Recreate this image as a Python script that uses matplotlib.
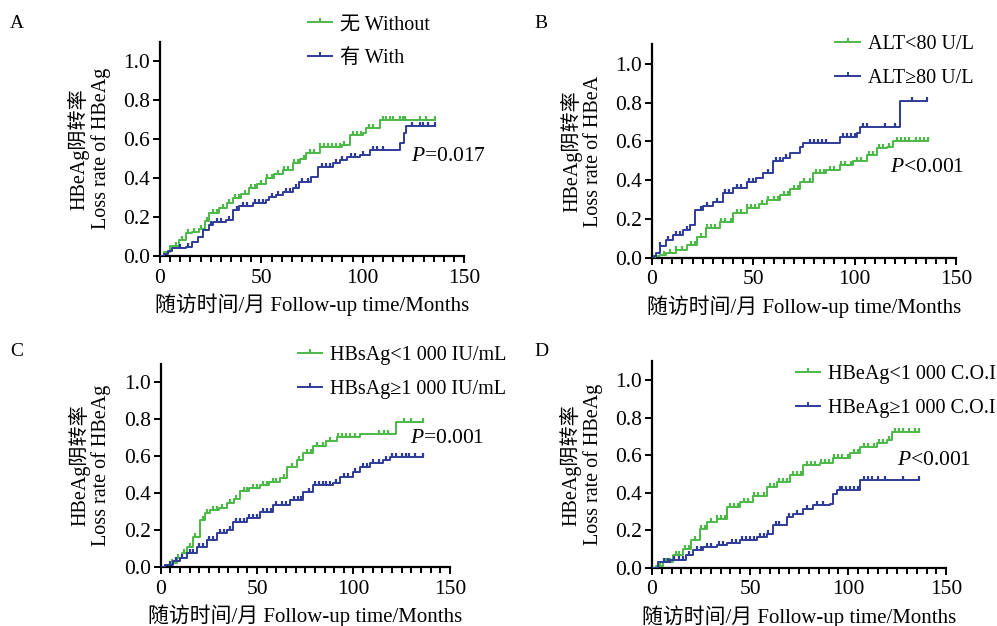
import numpy as np
import matplotlib

matplotlib.use("Agg")
import matplotlib.pyplot as plt
from matplotlib.lines import Line2D
from matplotlib.ticker import MultipleLocator

GREEN = "#4cb848"
BLUE = "#2d3b98"
FONT = ["Liberation Serif", "Noto Sans CJK SC", "DejaVu Sans"]

plt.rcParams.update({
    "font.family": FONT,
    "font.size": 15,
    "mathtext.fontset": "custom",
    "mathtext.it": "Liberation Serif:italic",
    "mathtext.rm": "Liberation Serif",
    "axes.linewidth": 1.6,
    "xtick.major.width": 1.4,
    "ytick.major.width": 1.4,
    "xtick.minor.width": 1.4,
})

# ---- data (time in months, cumulative loss rate) ---------------------------
A_WITHOUT_T = [2, 5, 9.5, 12.8, 16, 19.4, 22, 24.4, 29.3, 33, 35.9, 40, 44, 48, 52.4,
               56, 60.6, 65.5, 69, 72, 78.7, 90, 93.5, 100, 101.8, 108.3]
A_WITHOUT_S = [0.02, 0.05, 0.08, 0.116, 0.125, 0.14, 0.18, 0.22, 0.245, 0.27, 0.30, 0.32,
               0.347, 0.37, 0.40, 0.42, 0.44, 0.475, 0.50, 0.527, 0.56, 0.57, 0.62, 0.63,
               0.655, 0.70]
A_WITHOUT_C = [8, 11, 14, 17, 20, 23, 26, 28, 31, 34, 37, 39, 42, 45, 47, 50, 53, 55, 58,
               61, 63, 66, 68, 71, 74, 76, 79, 81, 83, 85, 87, 89, 91, 95, 97, 99, 103, 105,
               110, 111.7, 113.3, 115, 118.3, 120, 120.8, 128, 131.3, 135.5]
A_WITH_T = [2, 4, 6, 12.8, 16, 18.5, 21, 24, 26, 32.6, 36, 39, 45.8, 52.4, 54, 57, 60.6,
            65.5, 68.8, 74.6, 77.9, 85.3, 88.6, 92, 98.5, 103.4, 118.5, 120.5, 121.5]
A_WITH_S = [0.01, 0.025, 0.04, 0.048, 0.073, 0.1, 0.133, 0.16, 0.176, 0.185, 0.236, 0.256,
            0.273, 0.287, 0.304, 0.315, 0.33, 0.347, 0.38, 0.407, 0.458, 0.475, 0.49, 0.51,
            0.518, 0.545, 0.58, 0.63, 0.665]
A_WITH_C = [10, 14, 25, 28, 30, 34, 38, 41, 43, 47, 49, 51, 55, 58, 62, 64, 67, 70, 73, 80,
            82, 84, 87, 90, 94, 96, 100, 105, 107, 110, 124.5, 128, 129.7, 132, 135.5]

B_LOW_T = [1.3, 4, 7, 12, 17, 22, 26.8, 33.4, 40, 46.6, 53, 56.5, 63, 68, 73, 79.5, 86,
           92.7, 99.3, 105.9, 110.8, 115.8, 119]
B_LOW_S = [0.008, 0.015, 0.024, 0.04, 0.067, 0.11, 0.153, 0.187, 0.23, 0.256, 0.28, 0.30,
           0.325, 0.357, 0.393, 0.436, 0.454, 0.48, 0.497, 0.53, 0.565, 0.574, 0.60]
B_LOW_C = [6, 9, 12, 15, 19, 21, 24, 27, 29, 31, 34, 36, 39, 42, 44, 47, 49, 51, 54, 57,
           60, 62, 65, 67, 70, 72, 75, 78, 81, 83, 85, 88, 90, 93, 95, 98, 101, 103, 107,
           109, 112, 114, 117, 121, 123, 125, 127, 130, 132, 134, 136]
B_HIGH_T = [1, 2, 3.8, 7, 10.4, 15.3, 18.6, 21, 25.2, 30, 35, 40, 46.6, 51.5, 54.8, 59.8,
            64.7, 68, 73, 74.6, 92.7, 101, 102.6, 122.3]
B_HIGH_S = [0.012, 0.024, 0.062, 0.093, 0.12, 0.144, 0.17, 0.247, 0.265, 0.29, 0.333, 0.36,
            0.393, 0.41, 0.437, 0.497, 0.514, 0.54, 0.574, 0.59, 0.625, 0.643, 0.677, 0.806]
B_HIGH_C = [4, 8, 12, 14, 17, 24, 27, 32, 36, 38, 42, 44, 48, 50, 57, 61, 63, 66, 78, 80,
            82, 84, 86, 94, 96, 98, 100, 104, 106, 115, 120, 128, 135.5]

C_LOW_T = [2, 4.8, 8.3, 10.9, 13.5, 17, 20.4, 23, 25.6, 30, 34.2, 38, 41, 46, 51.5, 56,
           61.9, 65.3, 70.5, 74, 79, 86, 91.2, 103.3, 122.3]
C_LOW_S = [0.01, 0.02, 0.048, 0.075, 0.11, 0.165, 0.255, 0.29, 0.31, 0.32, 0.345, 0.37,
           0.41, 0.425, 0.443, 0.46, 0.48, 0.54, 0.578, 0.614, 0.653, 0.68, 0.704, 0.72, 0.785]
C_LOW_C = [6, 9, 12, 15, 18, 22, 24, 27, 29, 32, 36, 39, 43, 45, 48, 50, 53, 55, 58, 60,
           64, 68, 72, 76, 78, 81, 84, 88, 92, 94, 96, 98, 101, 113, 116, 118, 126, 130, 136]
C_HIGH_T = [2, 6.6, 10, 13.5, 18.7, 23.8, 29, 34.2, 37.7, 44.6, 51.5, 58.4, 67, 74, 79,
            89.5, 93, 99.9, 103.3, 108.5, 115.4, 118.9]
C_HIGH_S = [0.01, 0.03, 0.05, 0.075, 0.11, 0.147, 0.183, 0.2, 0.246, 0.264, 0.3, 0.336,
            0.363, 0.408, 0.443, 0.456, 0.488, 0.515, 0.542, 0.56, 0.578, 0.596]
C_HIGH_C = [5, 8, 11, 15, 17, 20, 22, 25, 27, 31, 33, 36, 39, 41, 43, 46, 48, 50, 53, 55,
            57, 60, 63, 65, 69, 71, 73, 77, 80, 82, 84, 86, 88, 91, 95, 97, 101, 105, 107,
            110, 113, 117, 120, 122, 125, 127, 129, 132, 136]

D_LOW_T = [2, 5.6, 10.7, 15.8, 20, 24.3, 27.8, 32.9, 38, 44.8, 51.6, 58.4, 63.5, 70.3,
           77.1, 85.6, 92.5, 101, 106, 114.6, 119.7, 122.3]
D_LOW_S = [0.012, 0.032, 0.067, 0.103, 0.147, 0.21, 0.245, 0.263, 0.325, 0.352, 0.382,
           0.432, 0.458, 0.494, 0.547, 0.56, 0.588, 0.61, 0.645, 0.663, 0.68, 0.725]
D_LOW_C = [4, 7, 9, 12, 14, 17, 19, 22, 25, 27, 30, 33, 35, 37, 40, 42, 44, 47, 49, 52, 54,
           57, 60, 62, 65, 67, 69, 72, 74, 76, 79, 81, 83, 86, 88, 90, 93, 95, 97, 100, 103,
           105, 108, 110, 113, 116, 118, 121, 124, 126, 128, 131, 134, 135.9]
D_HIGH_T = [3, 9, 17.5, 21, 26, 32.9, 38, 44.8, 53.3, 58.4, 61.8, 68.6, 72, 77.1, 82.2,
            90.7, 92.5, 94.2, 106]
D_HIGH_S = [0.032, 0.044, 0.067, 0.094, 0.112, 0.12, 0.133, 0.151, 0.165, 0.183, 0.227,
            0.272, 0.29, 0.316, 0.334, 0.343, 0.396, 0.414, 0.47]
D_HIGH_C = [6, 8, 11, 14, 16, 19, 23, 25, 28, 30, 34, 36, 41, 43, 46, 48, 50, 52, 55, 57,
            59, 63, 65, 70, 74, 79, 84, 87, 96, 97, 99, 101, 103, 105, 108, 110, 112, 115,
            119, 128, 135.9]

PANELS = [
    dict(letter="A", rect=[0.1605, 0.591, 0.305, 0.3427],
         series=[(A_WITHOUT_T, A_WITHOUT_S, A_WITHOUT_C, GREEN, "无 Without"),
                 (A_WITH_T, A_WITH_S, A_WITH_C, BLUE, "有 With")],
         ylabel="HBeAg阴转率\nLoss rate of HBeAg", p=r"$\it{P}$=0.017", ptxt=(124, 0.51),
         leg=(0.309, 0.976), lpos=(0.010, 0.962)),
    dict(letter="B", rect=[0.654, 0.588, 0.305, 0.341],
         series=[(B_LOW_T, B_LOW_S, B_LOW_C, GREEN, "ALT<80 U/L"),
                 (B_HIGH_T, B_HIGH_S, B_HIGH_C, BLUE, "ALT≥80 U/L")],
         ylabel="HBeAg阴转率\nLoss rate of HBeA", p=r"$\it{P}$<0.001", ptxt=(117.4, 0.464),
         leg=(0.838, 0.944), lpos=(0.536, 0.962)),
    dict(letter="C", rect=[0.1612, 0.0942, 0.290, 0.325],
         series=[(C_LOW_T, C_LOW_S, C_LOW_C, GREEN, "HBsAg<1 000 IU/mL"),
                 (C_HIGH_T, C_HIGH_S, C_HIGH_C, BLUE, "HBsAg≥1 000 IU/mL")],
         ylabel="HBeAg阴转率\nLoss rate of HBeAg", p=r"$\it{P}$=0.001", ptxt=(129.4, 0.697),
         leg=(0.299, 0.447), lpos=(0.010, 0.438)),
    dict(letter="D", rect=[0.654, 0.0927, 0.295, 0.330],
         series=[(D_LOW_T, D_LOW_S, D_LOW_C, GREEN, "HBeAg<1 000 C.O.I"),
                 (D_HIGH_T, D_HIGH_S, D_HIGH_C, BLUE, "HBeAg≥1 000 C.O.I")],
         ylabel="HBeAg阴转率\nLoss rate of HBeAg", p=r"$\it{P}$<0.001", ptxt=(125, 0.574),
         leg=(0.798, 0.417), lpos=(0.536, 0.438)),
]

fig = plt.figure(figsize=(9.97, 6.26), dpi=100)

for pan in PANELS:
    ax = fig.add_axes(pan["rect"])
    handles = []
    for t, s, cens, col, lab in pan["series"]:
        t = np.asarray(t, float)
        s = np.asarray(s, float)
        cens = np.asarray(cens, float)
        t_end = cens.max()
        ax.step(np.r_[0, t, t_end], np.r_[0, s, s[-1]], where="post",
                color=col, lw=1.4, zorder=3)
        idx = np.searchsorted(t, cens, side="right") - 1
        cv = np.where(idx >= 0, s[np.clip(idx, 0, None)], 0.0)
        ax.plot(cens, cv, ls="none", marker=2, ms=3.2, mew=1.6, color=col, zorder=3)
        handles.append(Line2D([], [], color=col, lw=1.4, marker=2, ms=3.2, mew=1.4,
                              label=lab))

    ax.set_xlim(0, 150)
    ax.set_ylim(0, 1.1)
    ax.set_xticks([0, 50, 100, 150])
    ax.xaxis.set_minor_locator(MultipleLocator(5))
    ax.set_yticks([0, 0.2, 0.4, 0.6, 0.8, 1.0])
    ax.set_yticklabels(["0.0", "0.2", "0.4", "0.6", "0.8", "1.0"])
    ax.tick_params(axis="both", which="major", length=5, labelsize=15.5)
    ax.tick_params(axis="x", which="major", pad=4)
    ax.tick_params(axis="y", which="major", pad=2)
    ax.tick_params(axis="x", which="minor", length=4)
    for side in ("top", "right"):
        ax.spines[side].set_visible(False)
    ax.set_xlabel("随访时间/月 Follow-up time/Months", fontsize=15, labelpad=4)
    ax.set_ylabel(pan["ylabel"], fontsize=14.5, labelpad=9, linespacing=1.1)
    ax.text(pan["ptxt"][0], pan["ptxt"][1], pan["p"], fontsize=15.5, va="center",
            ha="left")

    fig.legend(handles=handles, loc="upper left", bbox_to_anchor=pan["leg"],
               bbox_transform=fig.transFigure, frameon=False, fontsize=14.5,
               borderpad=0, borderaxespad=0, handlelength=1.2, handletextpad=0.4,
               labelspacing=0.75)
    fig.text(pan["lpos"][0], pan["lpos"][1], pan["letter"], fontsize=14,
             ha="left", va="center")

fig.savefig("out.png", dpi=100)
